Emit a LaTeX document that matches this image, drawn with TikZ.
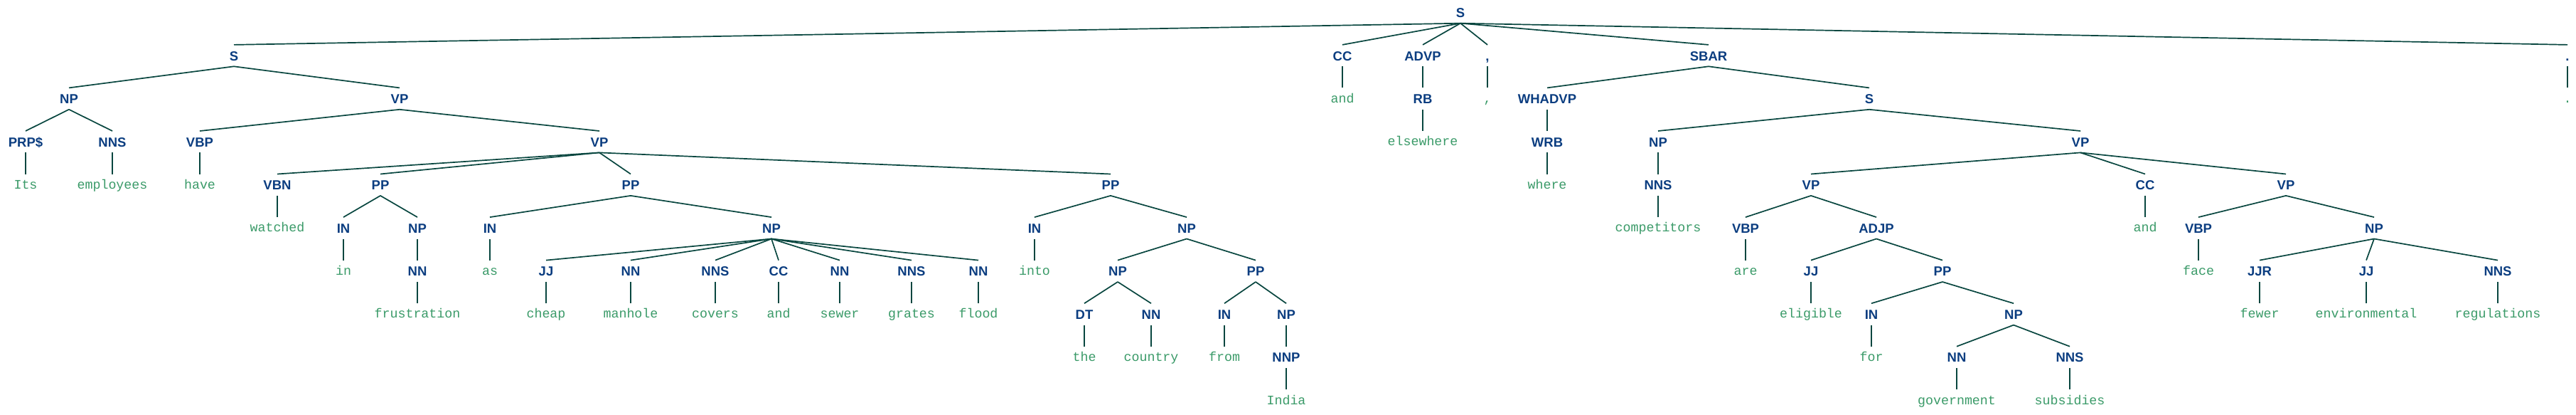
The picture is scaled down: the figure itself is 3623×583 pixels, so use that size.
\documentclass[tikz,border=0pt]{standalone}
\usepackage{fontspec}
\newfontfamily\labff{Liberation Sans}
\newfontfamily\wdff{Liberation Mono}
\definecolor{labcol}{HTML}{0B3D80}
\definecolor{wdcol}{HTML}{3A9A68}
\definecolor{edgecol}{HTML}{08463F}
\tikzset{
  lab/.style={font=\labff\bfseries\fontsize{18.5}{20}\selectfont, text=labcol, inner sep=0pt, text height=22pt, text depth=8pt},
  wd/.style={font=\wdff\fontsize{18.3}{20}\selectfont, text=wdcol, inner sep=0pt, text height=20.5pt, text depth=9.5pt},
  edge/.style={draw=edgecol, line width=1.7pt}
}
\begin{document}
\begin{tikzpicture}[x=1pt,y=-1pt]
\useasboundingbox (0,0) rectangle (3623,583);
\def\LA{17.5}\def\LB{78.1}\def\LC{138.6}\def\LD{199.2}\def\LE{259.7}
\def\LF{320.3}\def\LG{380.8}\def\LH{441.4}\def\LI{501.9}\def\LJ{562.5}
% level 0
\node[lab] (root) at (2054,\LA) {S};
% level 1
\node[lab] (s1) at (329,\LB) {S};
\node[lab] (cc1) at (1888,\LB) {CC};
\node[lab] (advp) at (2001,\LB) {ADVP};
\node[lab] (comma) at (2092,\LB) {,};
\node[lab] (sbar) at (2403,\LB) {SBAR};
\node[lab] (period) at (3611,\LB) {.};
% level 2
\node[lab] (np1) at (97,\LC) {NP};
\node[lab] (vp1) at (562,\LC) {VP};
\node[wd] (wand1) at (1888,\LC) {and};
\node[lab] (rb) at (2001,\LC) {RB};
\node[wd] (wcomma) at (2092,\LC) {,};
\node[lab] (whadvp) at (2176,\LC) {WHADVP};
\node[lab] (s2) at (2629,\LC) {S};
\node[wd] (wperiod) at (3611,\LC) {.};
% level 3
\node[lab] (prp) at (36,\LD) {PRP\$};
\node[lab] (nns1) at (158,\LD) {NNS};
\node[lab] (vbp1) at (281,\LD) {VBP};
\node[lab] (vp2) at (843,\LD) {VP};
\node[wd] (welsewhere) at (2001,\LD) {elsewhere};
\node[lab] (wrb) at (2176,\LD) {WRB};
\node[lab] (np5) at (2332,\LD) {NP};
\node[lab] (vp5) at (2926,\LD) {VP};
% level 4
\node[wd] (wits) at (36,\LE) {Its};
\node[wd] (wemployees) at (158,\LE) {employees};
\node[wd] (whave) at (281,\LE) {have};
\node[lab] (vbn) at (390,\LE) {VBN};
\node[lab] (pp1) at (535,\LE) {PP};
\node[lab] (pp2) at (887,\LE) {PP};
\node[lab] (pp3) at (1562,\LE) {PP};
\node[wd] (wwhere) at (2176,\LE) {where};
\node[lab] (nns5) at (2332,\LE) {NNS};
\node[lab] (vp6) at (2547,\LE) {VP};
\node[lab] (cc3) at (3017,\LE) {CC};
\node[lab] (vp7) at (3215,\LE) {VP};
% level 5
\node[wd] (wwatched) at (390,\LF) {watched};
\node[lab] (in1) at (483,\LF) {IN};
\node[lab] (np2) at (587,\LF) {NP};
\node[lab] (in2) at (689,\LF) {IN};
\node[lab] (np3) at (1085,\LF) {NP};
\node[lab] (in3) at (1455,\LF) {IN};
\node[lab] (np4) at (1669,\LF) {NP};
\node[wd] (wcompetitors) at (2332,\LF) {competitors};
\node[lab] (vbp2) at (2455,\LF) {VBP};
\node[lab] (adjp) at (2639,\LF) {ADJP};
\node[wd] (wand3) at (3017,\LF) {and};
\node[lab] (vbp3) at (3092,\LF) {VBP};
\node[lab] (np8) at (3339,\LF) {NP};
% level 6
\node[wd] (win) at (483,\LG) {in};
\node[lab] (nn1) at (587,\LG) {NN};
\node[wd] (was) at (689,\LG) {as};
\node[lab] (jj1) at (768,\LG) {JJ};
\node[lab] (nn2) at (887,\LG) {NN};
\node[lab] (nns2) at (1006,\LG) {NNS};
\node[lab] (cc2) at (1095,\LG) {CC};
\node[lab] (nn3) at (1181,\LG) {NN};
\node[lab] (nns3) at (1282,\LG) {NNS};
\node[lab] (nn4) at (1376,\LG) {NN};
\node[wd] (winto) at (1455,\LG) {into};
\node[lab] (np4a) at (1572,\LG) {NP};
\node[lab] (pp4) at (1766,\LG) {PP};
\node[wd] (ware) at (2455,\LG) {are};
\node[lab] (jj2) at (2547,\LG) {JJ};
\node[lab] (pp5) at (2732,\LG) {PP};
\node[wd] (wface) at (3092,\LG) {face};
\node[lab] (jjr) at (3178,\LG) {JJR};
\node[lab] (jj3) at (3328,\LG) {JJ};
\node[lab] (nns6) at (3513,\LG) {NNS};
% level 7
\node[wd] (wfrustration) at (587,\LH) {frustration};
\node[wd] (wcheap) at (768,\LH) {cheap};
\node[wd] (wmanhole) at (887,\LH) {manhole};
\node[wd] (wcovers) at (1006,\LH) {covers};
\node[wd] (wand2) at (1095,\LH) {and};
\node[wd] (wsewer) at (1181,\LH) {sewer};
\node[wd] (wgrates) at (1282,\LH) {grates};
\node[wd] (wflood) at (1376,\LH) {flood};
\node[lab] (dt) at (1525,\LH) {DT};
\node[lab] (nn5) at (1619,\LH) {NN};
\node[lab] (in4) at (1722,\LH) {IN};
\node[lab] (np4b) at (1809,\LH) {NP};
\node[wd] (weligible) at (2547,\LH) {eligible};
\node[lab] (in5) at (2632,\LH) {IN};
\node[lab] (np7) at (2832,\LH) {NP};
\node[wd] (wfewer) at (3178,\LH) {fewer};
\node[wd] (wenvironmental) at (3328,\LH) {environmental};
\node[wd] (wregulations) at (3513,\LH) {regulations};
% level 8
\node[wd] (wthe) at (1525,\LI) {the};
\node[wd] (wcountry) at (1619,\LI) {country};
\node[wd] (wfrom) at (1722,\LI) {from};
\node[lab] (nnp) at (1809,\LI) {NNP};
\node[wd] (wfor) at (2632,\LI) {for};
\node[lab] (nn6) at (2752,\LI) {NN};
\node[lab] (nns7) at (2911,\LI) {NNS};
% level 9
\node[wd] (windia) at (1809,\LJ) {India};
\node[wd] (wgovernment) at (2752,\LJ) {government};
\node[wd] (wsubsidies) at (2911,\LJ) {subsidies};
% edges
\foreach \a/\b in {root/s1,root/cc1,root/advp,root/comma,root/sbar,root/period,
  s1/np1,s1/vp1,np1/prp,np1/nns1,prp/wits,nns1/wemployees,
  vp1/vbp1,vp1/vp2,vbp1/whave,
  vp2/vbn,vp2/pp1,vp2/pp2,vp2/pp3,vbn/wwatched,
  pp1/in1,pp1/np2,in1/win,np2/nn1,nn1/wfrustration,
  pp2/in2,pp2/np3,in2/was,
  np3/jj1,np3/nn2,np3/nns2,np3/cc2,np3/nn3,np3/nns3,np3/nn4,
  jj1/wcheap,nn2/wmanhole,nns2/wcovers,cc2/wand2,nn3/wsewer,nns3/wgrates,nn4/wflood,
  pp3/in3,pp3/np4,in3/winto,np4/np4a,np4/pp4,np4a/dt,np4a/nn5,dt/wthe,nn5/wcountry,
  pp4/in4,pp4/np4b,in4/wfrom,np4b/nnp,nnp/windia,
  cc1/wand1,advp/rb,rb/welsewhere,comma/wcomma,period/wperiod,
  sbar/whadvp,sbar/s2,whadvp/wrb,wrb/wwhere,
  s2/np5,s2/vp5,np5/nns5,nns5/wcompetitors,
  vp5/vp6,vp5/cc3,vp5/vp7,cc3/wand3,
  vp6/vbp2,vp6/adjp,vbp2/ware,adjp/jj2,adjp/pp5,jj2/weligible,
  pp5/in5,pp5/np7,in5/wfor,np7/nn6,np7/nns7,nn6/wgovernment,nns7/wsubsidies,
  vp7/vbp3,vp7/np8,vbp3/wface,np8/jjr,np8/jj3,np8/nns6,
  jjr/wfewer,jj3/wenvironmental,nns6/wregulations}
  \draw[edge] (\a.south) -- (\b.north);
\end{tikzpicture}
\end{document}
